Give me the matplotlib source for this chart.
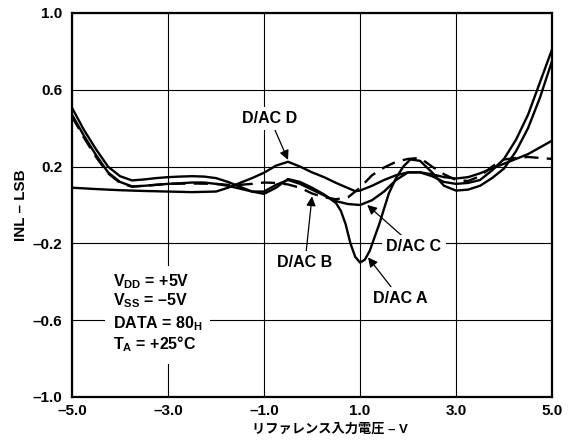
import matplotlib
matplotlib.use("Agg")
import matplotlib.pyplot as plt
from matplotlib.patches import Rectangle

plt.rcParams['font.family'] = ['Liberation Sans', 'Noto Sans CJK JP']
plt.rcParams['font.weight'] = 'bold'
plt.rcParams['mathtext.fontset'] = 'custom'
plt.rcParams['mathtext.rm'] = 'Liberation Sans:bold'
plt.rcParams['mathtext.it'] = 'Liberation Sans:bold'
plt.rcParams['mathtext.bf'] = 'Liberation Sans:bold'

# INL vs reference input voltage, one curve per DAC channel
x_a = [-5, -4.75, -4.5, -4.25, -4, -3.75, -3.5, -3.25, -3, -2.75, -2.5, -2.25, -2, -1.75,
       -1.5, -1.25, -1, -0.75, -0.5, -0.25, 0, 0.25, 0.5, 0.6, 0.7, 0.8, 0.9, 1.0, 1.1,
       1.2, 1.3, 1.4, 1.5, 1.6, 1.75, 1.9, 2.05, 2.25, 2.5, 2.75, 3, 3.25, 3.5, 3.75, 4,
       4.25, 4.5, 4.75, 5]
inl_a = [0.506, 0.39, 0.29, 0.2, 0.15, 0.128, 0.133, 0.14, 0.145, 0.148, 0.15, 0.148, 0.14,
         0.12, 0.095, 0.07, 0.058, 0.09, 0.135, 0.12, 0.09, 0.055, 0.01, -0.03, -0.1, -0.2,
         -0.27, -0.3, -0.285, -0.24, -0.17, -0.1, -0.02, 0.06, 0.14, 0.2, 0.237, 0.23, 0.17,
         0.1, 0.075, 0.08, 0.1, 0.14, 0.19, 0.28, 0.4, 0.56, 0.75]

x_b = [-5, -4.75, -4.5, -4.25, -4, -3.75, -3.5, -3.25, -3, -2.5, -2, -1.75, -1.5, -1.25, -1,
       -0.75, -0.5, -0.25, 0, 0.25, 0.5, 0.75, 0.9, 1.0, 1.25, 1.5, 1.75, 2, 2.25, 2.5,
       2.75, 3, 3.25, 3.5, 3.75, 4, 4.25, 4.5, 4.75, 5]
inl_b = [0.46, 0.35, 0.25, 0.165, 0.115, 0.095, 0.1, 0.105, 0.11, 0.112, 0.11, 0.105, 0.105,
         0.11, 0.117, 0.115, 0.107, 0.09, 0.06, 0.04, 0.03, 0.04, 0.07, 0.09, 0.155, 0.195,
         0.225, 0.24, 0.245, 0.2, 0.16, 0.13, 0.125, 0.15, 0.2, 0.237, 0.245, 0.25, 0.245,
         0.24]

x_c = [-5, -4.75, -4.5, -4.25, -4, -3.75, -3.5, -3.25, -3, -2.75, -2.5, -2.25, -2, -1.75,
       -1.5, -1.25, -1, -0.75, -0.5, -0.25, 0, 0.25, 0.5, 0.75, 1.0, 1.25, 1.5, 1.75, 2,
       2.25, 2.5, 2.75, 3, 3.25, 3.5, 3.75, 4, 4.25, 4.5, 4.75, 5]
inl_c = [0.47, 0.36, 0.26, 0.17, 0.12, 0.097, 0.1, 0.105, 0.11, 0.113, 0.117, 0.117, 0.11,
         0.1, 0.085, 0.07, 0.07, 0.105, 0.13, 0.11, 0.08, 0.05, 0.02, 0.005, 0.0, 0.025,
         0.07, 0.13, 0.17, 0.17, 0.15, 0.12, 0.11, 0.115, 0.13, 0.18, 0.24, 0.34, 0.47,
         0.64, 0.81]

x_d = [-5, -4.5, -4, -3.5, -3, -2.5, -2, -1.75, -1.5, -1.25, -1, -0.75, -0.5, -0.25, 0,
       0.25, 0.5, 0.75, 0.9, 1.0, 1.25, 1.5, 1.75, 2, 2.25, 2.5, 2.75, 3, 3.25, 3.5, 3.75,
       4, 4.25, 4.5, 4.75, 5]
inl_d = [0.09, 0.083, 0.077, 0.073, 0.07, 0.067, 0.07, 0.09, 0.115, 0.14, 0.168, 0.205,
         0.225, 0.2, 0.17, 0.145, 0.115, 0.088, 0.072, 0.075, 0.1, 0.13, 0.155, 0.17, 0.17,
         0.16, 0.145, 0.138, 0.145, 0.165, 0.19, 0.215, 0.24, 0.265, 0.3, 0.335]

x_ticks = [-5, -3, -1, 1, 3, 5]
x_labels = ['–5.0', '–3.0', '–1.0', '1.0', '3.0', '5.0']
y_ticks = [-1.0, -0.6, -0.2, 0.2, 0.6, 1.0]
y_labels = ['–1.0', '–0.6', '–0.2', '0.2', '0.6', '1.0']

conditions = ['V$_{\\mathrm{DD}}$ = +5V', 'V$_{\\mathrm{SS}}$ = –5V',
              'DATA = 80$_{\\mathrm{H}}$', 'T$_{\\mathrm{A}}$ = +25°C']

fig = plt.figure(figsize=(5.73, 4.45), dpi=100)
ax = fig.add_axes([0.1257, 0.1079, 0.8377, 0.8629])

lw = 1.7
ax.plot(x_a, inl_a, color='black', lw=lw, zorder=2)
ax.plot(x_c, inl_c, color='black', lw=lw, zorder=2)
ax.plot(x_d, inl_d, color='black', lw=lw, zorder=2)
ax.plot(x_b, inl_b, color='black', lw=lw, dashes=(6, 3.5), zorder=2)

ax.set_xlim(-5, 5)
ax.set_ylim(-1, 1)
ax.set_xticks(x_ticks)
ax.set_xticklabels(x_labels)
ax.set_yticks(y_ticks)
ax.set_yticklabels(y_labels)
ax.tick_params(length=0, labelsize=11)
ax.tick_params(axis='x', pad=5)
ax.tick_params(axis='y', pad=7)
ax.set_axisbelow(True)
ax.grid(True, color='black', lw=0.8)
for s in ax.spines.values():
    s.set_linewidth(1.6)

ax.set_xlabel('リファレンス入力電圧 – V', fontsize=9.5, fontweight='bold', labelpad=4)
ax.xaxis.label.set_x(0.5375)
ax.set_ylabel('INL – LSB', fontsize=11, fontweight='bold', labelpad=3)

# white patch behind the test conditions so the grid stops around them
ax.add_patch(Rectangle((-4.31, -0.83), 2.185, 0.51, facecolor='white',
                       edgecolor='none', zorder=1))
cond_y = [-0.422, -0.522, -0.642, -0.754]
for txt, yy in zip(conditions, cond_y):
    ax.text(-4.146, yy, txt, fontsize=11.5, fontweight='bold', va='baseline',
            ha='left', zorder=3)

box = dict(boxstyle='square,pad=0.25', facecolor='white', edgecolor='none')
arrow = dict(arrowstyle='-|>', color='black', lw=0.9, mutation_scale=14,
             shrinkA=0, shrinkB=0)
ax.annotate('D/AC D', xy=(-0.5, 0.235), xytext=(-0.875, 0.449), ha='center',
            va='center', fontsize=11.5, fontweight='bold', bbox=box,
            arrowprops=arrow, zorder=3)
ax.annotate('D/AC B', xy=(0.0, 0.045), xytext=(-0.146, -0.299), ha='center',
            va='center', fontsize=11.5, fontweight='bold', bbox=box,
            arrowprops=arrow, zorder=3)
ax.annotate('D/AC C', xy=(1.15, 0.0), xytext=(2.125, -0.216), ha='center',
            va='center', fontsize=11.5, fontweight='bold', bbox=box,
            arrowprops=arrow, zorder=3)
ax.annotate('D/AC A', xy=(1.167, -0.273), xytext=(1.833, -0.486), ha='center',
            va='center', fontsize=11.5, fontweight='bold', bbox=box,
            arrowprops=arrow, zorder=3)

fig.savefig('out.png', dpi=100)
